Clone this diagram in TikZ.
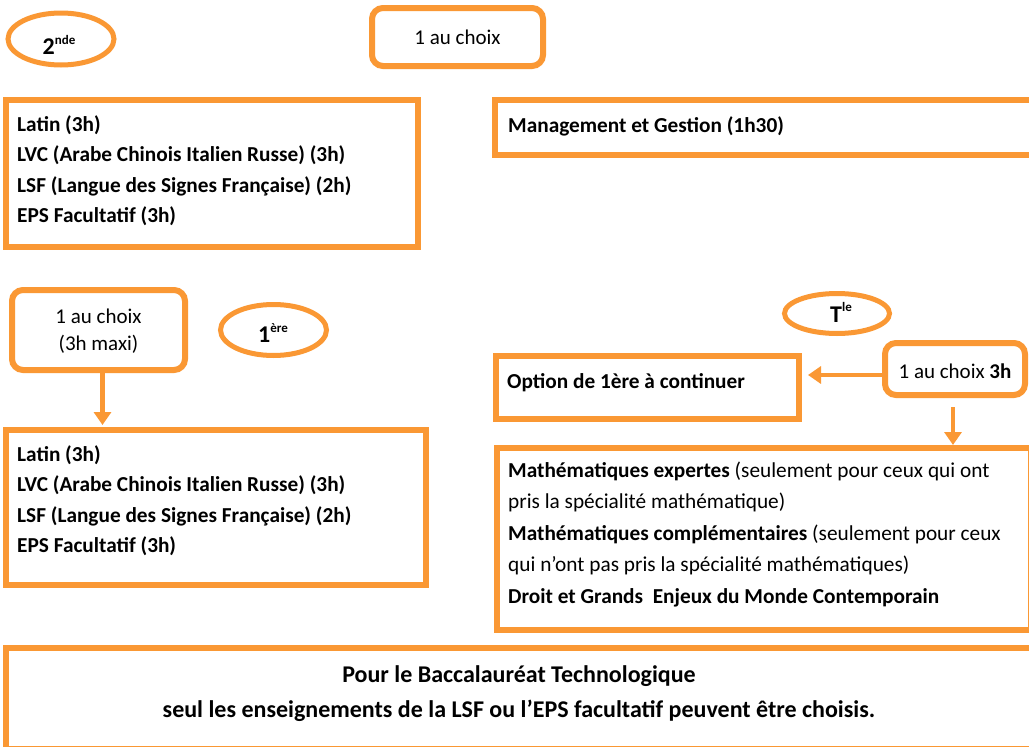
\documentclass[tikz,border=0pt]{standalone}
\usepackage{fontspec}
\setmainfont{Carlito}
\usetikzlibrary{arrows.meta,shapes.geometric,fit,calc}
\definecolor{org}{RGB}{250,152,52}
\newcommand\Lines[1]{\parbox[t]{600pt}{\raggedright #1}}
\begin{document}
\begin{tikzpicture}[x=1pt,y=-1pt,
  box/.style={draw=org, line width=6pt, inner sep=0pt, fit={#1}},
  rbox/.style={draw=org, line width=6pt, inner sep=0pt, fit={#1}, rounded corners=11pt},
  ell/.style={draw=org, line width=5pt, ellipse, inner sep=0pt},
  txt/.style={inner sep=0pt, anchor=base west, font=\fontsize{21.3}{30.5}\selectfont},
  btxt/.style={txt, font=\fontsize{21.3}{30.5}\selectfont\bfseries},
  ctxt/.style={inner sep=0pt, anchor=base, font=\fontsize{21}{27}\selectfont},
  big/.style={inner sep=0pt, anchor=base, font=\fontsize{24}{24}\selectfont\bfseries},
  arr/.style={draw=org, line width=4.5pt, -{Triangle[length=13pt,width=17pt]}}
]
\useasboundingbox (0,0) rectangle (1029,747);
\fill[white] (0,0) rectangle (1029,747);

% ellipses
\node[ell, minimum width=106, minimum height=52] (e2) at (61,39) {};
\node[big] (t2) at (59,54) {2\raisebox{10pt}{\fontsize{13}{13}\selectfont nde}};
\node[ell, minimum width=106, minimum height=51] (e1) at (273.5,330) {};
\node[big] (t1) at (273,342) {1\raisebox{10pt}{\fontsize{13}{13}\selectfont ère}};
\node[ell, minimum width=105, minimum height=40] (eT) at (837,313.5) {};
\node[big] (tT) at (841,322) {T\raisebox{11pt}{\fontsize{13}{13}\selectfont le}};

% rounded choice boxes
\node[rbox={(372,8) (543,66)}] (c2) {};
\node[ctxt] (c2t) at (457.5,44) {1 au choix};
\node[rbox={(12,290) (185,370)}] (maxi) {};
\node[ctxt, align=center] (maxit) at (98.5,350) {1 au choix\\(3h maxi)};
\node[rbox={(885,343) (1025,395)}] (b3h) {};
\node[ctxt] (b3ht) at (955,378) {1 au choix \textbf{3h}};

% rectangles
\node[box={(6,100) (418,247)}] (lat1) {};
\node[btxt] (lat1t) at (17,131) {\Lines{Latin (3h)\\LVC (Arabe Chinois Italien Russe) (3h)\\LSF (Langue des Signes Française) (2h)\\EPS Facultatif (3h)}};
\node[box={(495,100) (1040,155)}] (mg) {};
\node[btxt] (mgt) at (508,132) {Management et Gestion (1h30)};
\node[box={(6,430) (426,585)}] (lat2) {};
\node[btxt] (lat2t) at (17,461) {\Lines{Latin (3h)\\LVC (Arabe Chinois Italien Russe) (3h)\\LSF (Langue des Signes Française) (2h)\\EPS Facultatif (3h)}};
\node[box={(496,356) (799,419)}] (opt) {};
\node[btxt] (optt) at (507,388) {Option de 1ère à continuer};
\node[box={(497,448) (1031,630)}] (math) {};
\node[txt, font=\fontsize{21.3}{31.5}\selectfont] (matht) at (508,477) {\Lines{\textbf{Mathématiques expertes} (seulement pour ceux qui ont\\pris la spécialité mathématique)\\\textbf{Mathématiques complémentaires} (seulement pour ceux\\qui n’ont pas pris la spécialité mathématiques)\\\textbf{Droit et Grands~ Enjeux du Monde Contemporain}}};
\node[box={(6,648) (1040,749)}] (bac) {};
\node[ctxt, font=\fontsize{24}{35}\selectfont\bfseries, align=center] (bact) at (519,717) {Pour le Baccalauréat Technologique\\seul les enseignements de la LSF ou l’EPS facultatif peuvent être choisis.};

% arrows
\draw[arr, shorten >=2pt] ([xshift=4pt]maxi.south) -- ([xshift=4pt]maxi.south |- lat2.north);
\draw[arr, shorten >=6pt] ([yshift=-6pt]b3h.west) -- ([yshift=-6pt]b3h.west -| opt.east);
\draw[arr] ([yshift=-9pt,xshift=-2pt]b3h.south) -- ([xshift=-2pt]b3h.south |- math.north);
\end{tikzpicture}
\end{document}
